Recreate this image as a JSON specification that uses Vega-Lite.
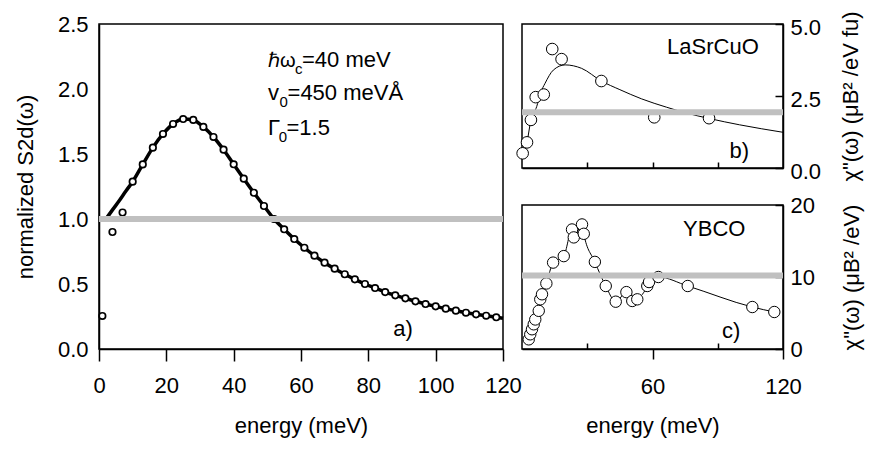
{
  "$schema": "https://vega.github.io/schema/vega-lite/v6.json",
  "padding": {"left": 13, "top": 7, "right": 5, "bottom": 5},
  "background": "white",
  "config": {
    "font": "Liberation Sans",
    "view": {"stroke": "black", "strokeWidth": 1.5},
    "axis": {
      "grid": false,
      "domainColor": "black",
      "domainWidth": 1.5,
      "tickColor": "black",
      "tickWidth": 1.5,
      "labelFont": "Liberation Sans",
      "labelFontSize": 22,
      "labelColor": "black",
      "labelFlush": false,
      "titleFont": "Liberation Sans",
      "titleFontSize": 22,
      "titleFontWeight": "normal",
      "titleColor": "black"
    },
    "text": {"font": "Liberation Sans", "fontSize": 22, "color": "black"}
  },
  "datasets": {
    "sim": [
      {"e": 1, "v": 0.254}, {"e": 4, "v": 0.9}, {"e": 7, "v": 1.05}, {"e": 10, "v": 1.287},
      {"e": 13, "v": 1.42}, {"e": 16, "v": 1.549}, {"e": 19, "v": 1.654}, {"e": 22, "v": 1.731},
      {"e": 25, "v": 1.769}, {"e": 28, "v": 1.762}, {"e": 31, "v": 1.708}, {"e": 34, "v": 1.631},
      {"e": 37, "v": 1.533}, {"e": 40, "v": 1.421}, {"e": 43, "v": 1.31}, {"e": 46, "v": 1.202},
      {"e": 49, "v": 1.1}, {"e": 52, "v": 1.0}, {"e": 55, "v": 0.921}, {"e": 58, "v": 0.846},
      {"e": 61, "v": 0.779}, {"e": 64, "v": 0.718}, {"e": 67, "v": 0.664}, {"e": 70, "v": 0.618},
      {"e": 73, "v": 0.575}, {"e": 76, "v": 0.536}, {"e": 79, "v": 0.5}, {"e": 82, "v": 0.469},
      {"e": 85, "v": 0.438}, {"e": 88, "v": 0.413}, {"e": 91, "v": 0.39}, {"e": 94, "v": 0.367},
      {"e": 97, "v": 0.346}, {"e": 100, "v": 0.328}, {"e": 103, "v": 0.31}, {"e": 106, "v": 0.295},
      {"e": 109, "v": 0.279}, {"e": 112, "v": 0.267}, {"e": 115, "v": 0.256}, {"e": 118, "v": 0.244}
    ],
    "simline": [
      {"e": 1.8, "v": 0.99}, {"e": 4, "v": 1.07}, {"e": 6, "v": 1.14}, {"e": 8, "v": 1.215},
      {"e": 10, "v": 1.287}, {"e": 13, "v": 1.42}, {"e": 16, "v": 1.549}, {"e": 19, "v": 1.654},
      {"e": 22, "v": 1.731}, {"e": 25, "v": 1.769}, {"e": 28, "v": 1.762}, {"e": 31, "v": 1.708},
      {"e": 34, "v": 1.631}, {"e": 37, "v": 1.533}, {"e": 40, "v": 1.421}, {"e": 43, "v": 1.31},
      {"e": 46, "v": 1.202}, {"e": 49, "v": 1.1}, {"e": 52, "v": 1.0}, {"e": 55, "v": 0.921},
      {"e": 58, "v": 0.846}, {"e": 61, "v": 0.779}, {"e": 64, "v": 0.718}, {"e": 67, "v": 0.664},
      {"e": 70, "v": 0.618}, {"e": 73, "v": 0.575}, {"e": 76, "v": 0.536}, {"e": 79, "v": 0.5},
      {"e": 82, "v": 0.469}, {"e": 85, "v": 0.438}, {"e": 88, "v": 0.413}, {"e": 91, "v": 0.39},
      {"e": 94, "v": 0.367}, {"e": 97, "v": 0.346}, {"e": 100, "v": 0.328}, {"e": 103, "v": 0.31},
      {"e": 106, "v": 0.295}, {"e": 109, "v": 0.279}, {"e": 112, "v": 0.267}, {"e": 115, "v": 0.256},
      {"e": 118, "v": 0.244}, {"e": 120, "v": 0.236}
    ],
    "annot": [
      {"e": 60.3, "v": 2.17, "t": "=40 meV"},
      {"e": 50.2, "v": 1.915, "t": "v"},
      {"e": 56.0, "v": 1.915, "t": "=450 meVÅ"},
      {"e": 50.2, "v": 1.646, "t": "Γ"},
      {"e": 55.7, "v": 1.646, "t": "=1.5"}
    ],
    "annothbar": [
      {"e": 50.2, "v": 2.17, "t": "ℏω"}
    ],
    "annotsub": [
      {"e": 58.2, "v": 2.115, "t": "c"},
      {"e": 53.6, "v": 1.86, "t": "0"},
      {"e": 53.4, "v": 1.591, "t": "0"}
    ],
    "las": [
      {"e": 0.3, "v": 0.51}, {"e": 2.3, "v": 0.89}, {"e": 4.1, "v": 1.67}, {"e": 6.3, "v": 2.46},
      {"e": 10.0, "v": 2.55}, {"e": 13.9, "v": 4.13}, {"e": 18.2, "v": 3.78}, {"e": 36.5, "v": 3.02},
      {"e": 60.8, "v": 1.76}, {"e": 86, "v": 1.73}
    ],
    "lasline": [
      {"e": 0.3, "v": 0.5}, {"e": 2.3, "v": 0.9}, {"e": 4.1, "v": 1.67}, {"e": 6.75, "v": 2.13},
      {"e": 8.5, "v": 2.6}, {"e": 10.6, "v": 2.94}, {"e": 14.4, "v": 3.4}, {"e": 19.8, "v": 3.58},
      {"e": 27.4, "v": 3.46}, {"e": 36.5, "v": 3.02}, {"e": 45, "v": 2.72}, {"e": 55, "v": 2.4},
      {"e": 66.5, "v": 2.11}, {"e": 75, "v": 1.92}, {"e": 86, "v": 1.72}, {"e": 100, "v": 1.5},
      {"e": 120, "v": 1.24}
    ],
    "ybco": [
      {"e": 3.1, "v": 1.34}, {"e": 3.8, "v": 2.04}, {"e": 4.6, "v": 2.74}, {"e": 5.4, "v": 3.43},
      {"e": 6.1, "v": 4.1}, {"e": 7.7, "v": 5.3}, {"e": 8.4, "v": 6.9}, {"e": 9.2, "v": 7.6},
      {"e": 11.2, "v": 9.1}, {"e": 14.3, "v": 12.0}, {"e": 19.2, "v": 12.9}, {"e": 23.0, "v": 16.6},
      {"e": 23.8, "v": 15.5}, {"e": 27.6, "v": 17.3}, {"e": 28.4, "v": 16.0}, {"e": 33.5, "v": 12.1},
      {"e": 38.5, "v": 8.75}, {"e": 43.1, "v": 6.57}, {"e": 48.0, "v": 7.9}, {"e": 50.7, "v": 6.67},
      {"e": 53.0, "v": 6.9}, {"e": 57.6, "v": 8.75}, {"e": 58.4, "v": 9.3}, {"e": 62.7, "v": 10.0},
      {"e": 76.2, "v": 8.75}, {"e": 105.9, "v": 5.83}, {"e": 116, "v": 5.14}
    ]
  },
  "bounds": "flush",
  "spacing": 19,
  "hconcat": [
    {
      "width": 404,
      "height": 325,
      "layer": [
        {
          "data": {"name": "simline"},
          "mark": {"type": "line", "color": "black", "strokeWidth": 3.5, "interpolate": "monotone"},
          "encoding": {
            "x": {
              "field": "e", "type": "quantitative",
              "scale": {"domain": [0, 120], "nice": false},
              "axis": {
                "title": "energy (meV)",
                "values": [0, 10, 20, 30, 40, 50, 60, 70, 80, 90, 100, 110, 120],
                "labelExpr": "datum.value % 20 === 0 ? datum.label : ''",
                "tickSize": {"condition": {"test": "datum.value % 20 === 0", "value": 12}, "value": -5},
                "labelPadding": 14,
                "titlePadding": 19
              }
            },
            "y": {
              "field": "v", "type": "quantitative",
              "scale": {"domain": [0, 2.5], "nice": false},
              "axis": {
                "title": "normalized S2d(ω)",
                "values": [0, 0.5, 1, 1.5, 2, 2.5],
                "format": ".1f",
                "ticks": false,
                "labelPadding": 11,
                "titlePadding": 20
              }
            }
          }
        },
        {
          "data": {"name": "sim"},
          "mark": {"type": "point", "filled": true, "fill": "white", "stroke": "black", "strokeWidth": 1.7, "size": 42, "opacity": 1},
          "encoding": {
            "x": {"field": "e", "type": "quantitative"},
            "y": {"field": "v", "type": "quantitative"}
          }
        },
        {
          "data": {"values": [{"v": 1}]},
          "mark": {"type": "rule", "color": "#c0c0c0", "strokeWidth": 6},
          "encoding": {"y": {"field": "v", "type": "quantitative"}}
        },
        {
          "data": {"name": "annot"},
          "mark": {"type": "text", "align": "left", "baseline": "alphabetic"},
          "encoding": {
            "x": {"field": "e", "type": "quantitative"},
            "y": {"field": "v", "type": "quantitative"},
            "text": {"field": "t"}
          }
        },
        {
          "data": {"name": "annothbar"},
          "mark": {"type": "text", "align": "left", "baseline": "alphabetic", "fontSize": 20},
          "encoding": {
            "x": {"field": "e", "type": "quantitative"},
            "y": {"field": "v", "type": "quantitative"},
            "text": {"field": "t"}
          }
        },
        {
          "data": {"name": "annotsub"},
          "mark": {"type": "text", "align": "left", "baseline": "alphabetic", "fontSize": 15},
          "encoding": {
            "x": {"field": "e", "type": "quantitative"},
            "y": {"field": "v", "type": "quantitative"},
            "text": {"field": "t"}
          }
        },
        {
          "data": {"values": [{"e": 90.3, "v": 0.1, "t": "a)"}]},
          "mark": {"type": "text", "align": "center", "baseline": "alphabetic"},
          "encoding": {
            "x": {"field": "e", "type": "quantitative"},
            "y": {"field": "v", "type": "quantitative"},
            "text": {"field": "t"}
          }
        }
      ]
    },
    {
      "bounds": "flush",
      "spacing": 37,
      "vconcat": [
        {
          "width": 261,
          "height": 144,
          "layer": [
            {
              "data": {"name": "lasline"},
              "mark": {"type": "line", "color": "black", "strokeWidth": 1, "interpolate": "monotone"},
              "encoding": {
                "x": {
                  "field": "e", "type": "quantitative",
                  "scale": {"domain": [0, 120], "nice": false},
                  "axis": {"title": null, "values": [30, 60, 90], "labels": false, "tickSize": -6}
                },
                "y": {
                  "field": "v", "type": "quantitative",
                  "scale": {"domain": [0, 5], "nice": false},
                  "axis": {
                    "orient": "right",
                    "title": "χ\"(ω)  (μB² /eV fu)",
                    "titleAngle": 270,
                    "titleBaseline": "top",
                    "titleAlign": "center",
                    "values": [0, 1.25, 2.5, 3.75, 5],
                    "format": ".1f",
                    "labelExpr": "datum.value % 2.5 === 0 ? datum.label : ''",
                    "labelOffset": 3,
                    "tickSize": -8,
                    "labelPadding": 15,
                    "titlePadding": 20
                  }
                }
              }
            },
            {
              "data": {"name": "las"},
              "mark": {"type": "point", "filled": true, "fill": "white", "stroke": "black", "strokeWidth": 1, "size": 135, "opacity": 1},
              "encoding": {
                "x": {"field": "e", "type": "quantitative"},
                "y": {"field": "v", "type": "quantitative"}
              }
            },
            {
              "data": {"values": [{"v": 1.94}]},
              "mark": {"type": "rule", "color": "#c0c0c0", "strokeWidth": 6},
              "encoding": {"y": {"field": "v", "type": "quantitative"}}
            },
            {
              "data": {"values": [{"e": 87.8, "v": 3.96, "t": "LaSrCuO"}, {"e": 99.9, "v": 0.34, "t": "b)"}]},
              "mark": {"type": "text", "align": "center", "baseline": "alphabetic"},
              "encoding": {
                "x": {"field": "e", "type": "quantitative"},
                "y": {"field": "v", "type": "quantitative"},
                "text": {"field": "t"}
              }
            }
          ]
        },
        {
          "width": 261,
          "height": 144,
          "layer": [
            {
              "data": {"name": "ybco"},
              "mark": {"type": "line", "color": "black", "strokeWidth": 1, "interpolate": "monotone"},
              "encoding": {
                "x": {
                  "field": "e", "type": "quantitative",
                  "scale": {"domain": [0, 120], "nice": false},
                  "axis": {
                    "title": "energy (meV)",
                    "values": [30, 60, 90, 120],
                    "labelExpr": "datum.value % 60 === 0 ? datum.label : ''",
                    "tickSize": {"condition": {"test": "datum.value % 60 === 0", "value": 10}, "value": -6},
                    "labelPadding": 17,
                    "titlePadding": 18
                  }
                },
                "y": {
                  "field": "v", "type": "quantitative",
                  "scale": {"domain": [0, 20], "nice": false},
                  "axis": {
                    "orient": "right",
                    "title": "χ\"(ω)  (μB² /eV)",
                    "titleAngle": 270,
                    "titleBaseline": "top",
                    "titleAlign": "center",
                    "values": [0, 5, 10, 15, 20],
                    "labelExpr": "datum.value % 10 === 0 ? datum.label : ''",
                    "tickSize": -8,
                    "labelPadding": 15,
                    "titlePadding": 27
                  }
                }
              }
            },
            {
              "data": {"name": "ybco"},
              "mark": {"type": "point", "filled": true, "fill": "white", "stroke": "black", "strokeWidth": 1, "size": 130, "opacity": 1},
              "encoding": {
                "x": {"field": "e", "type": "quantitative"},
                "y": {"field": "v", "type": "quantitative"}
              }
            },
            {
              "data": {"values": [{"v": 10.2}]},
              "mark": {"type": "rule", "color": "#c0c0c0", "strokeWidth": 6},
              "encoding": {"y": {"field": "v", "type": "quantitative"}}
            },
            {
              "data": {"values": [{"e": 88.4, "v": 15.7, "t": "YBCO"}, {"e": 96.2, "v": 1.57, "t": "c)"}]},
              "mark": {"type": "text", "align": "center", "baseline": "alphabetic"},
              "encoding": {
                "x": {"field": "e", "type": "quantitative"},
                "y": {"field": "v", "type": "quantitative"},
                "text": {"field": "t"}
              }
            }
          ]
        }
      ]
    }
  ]
}
